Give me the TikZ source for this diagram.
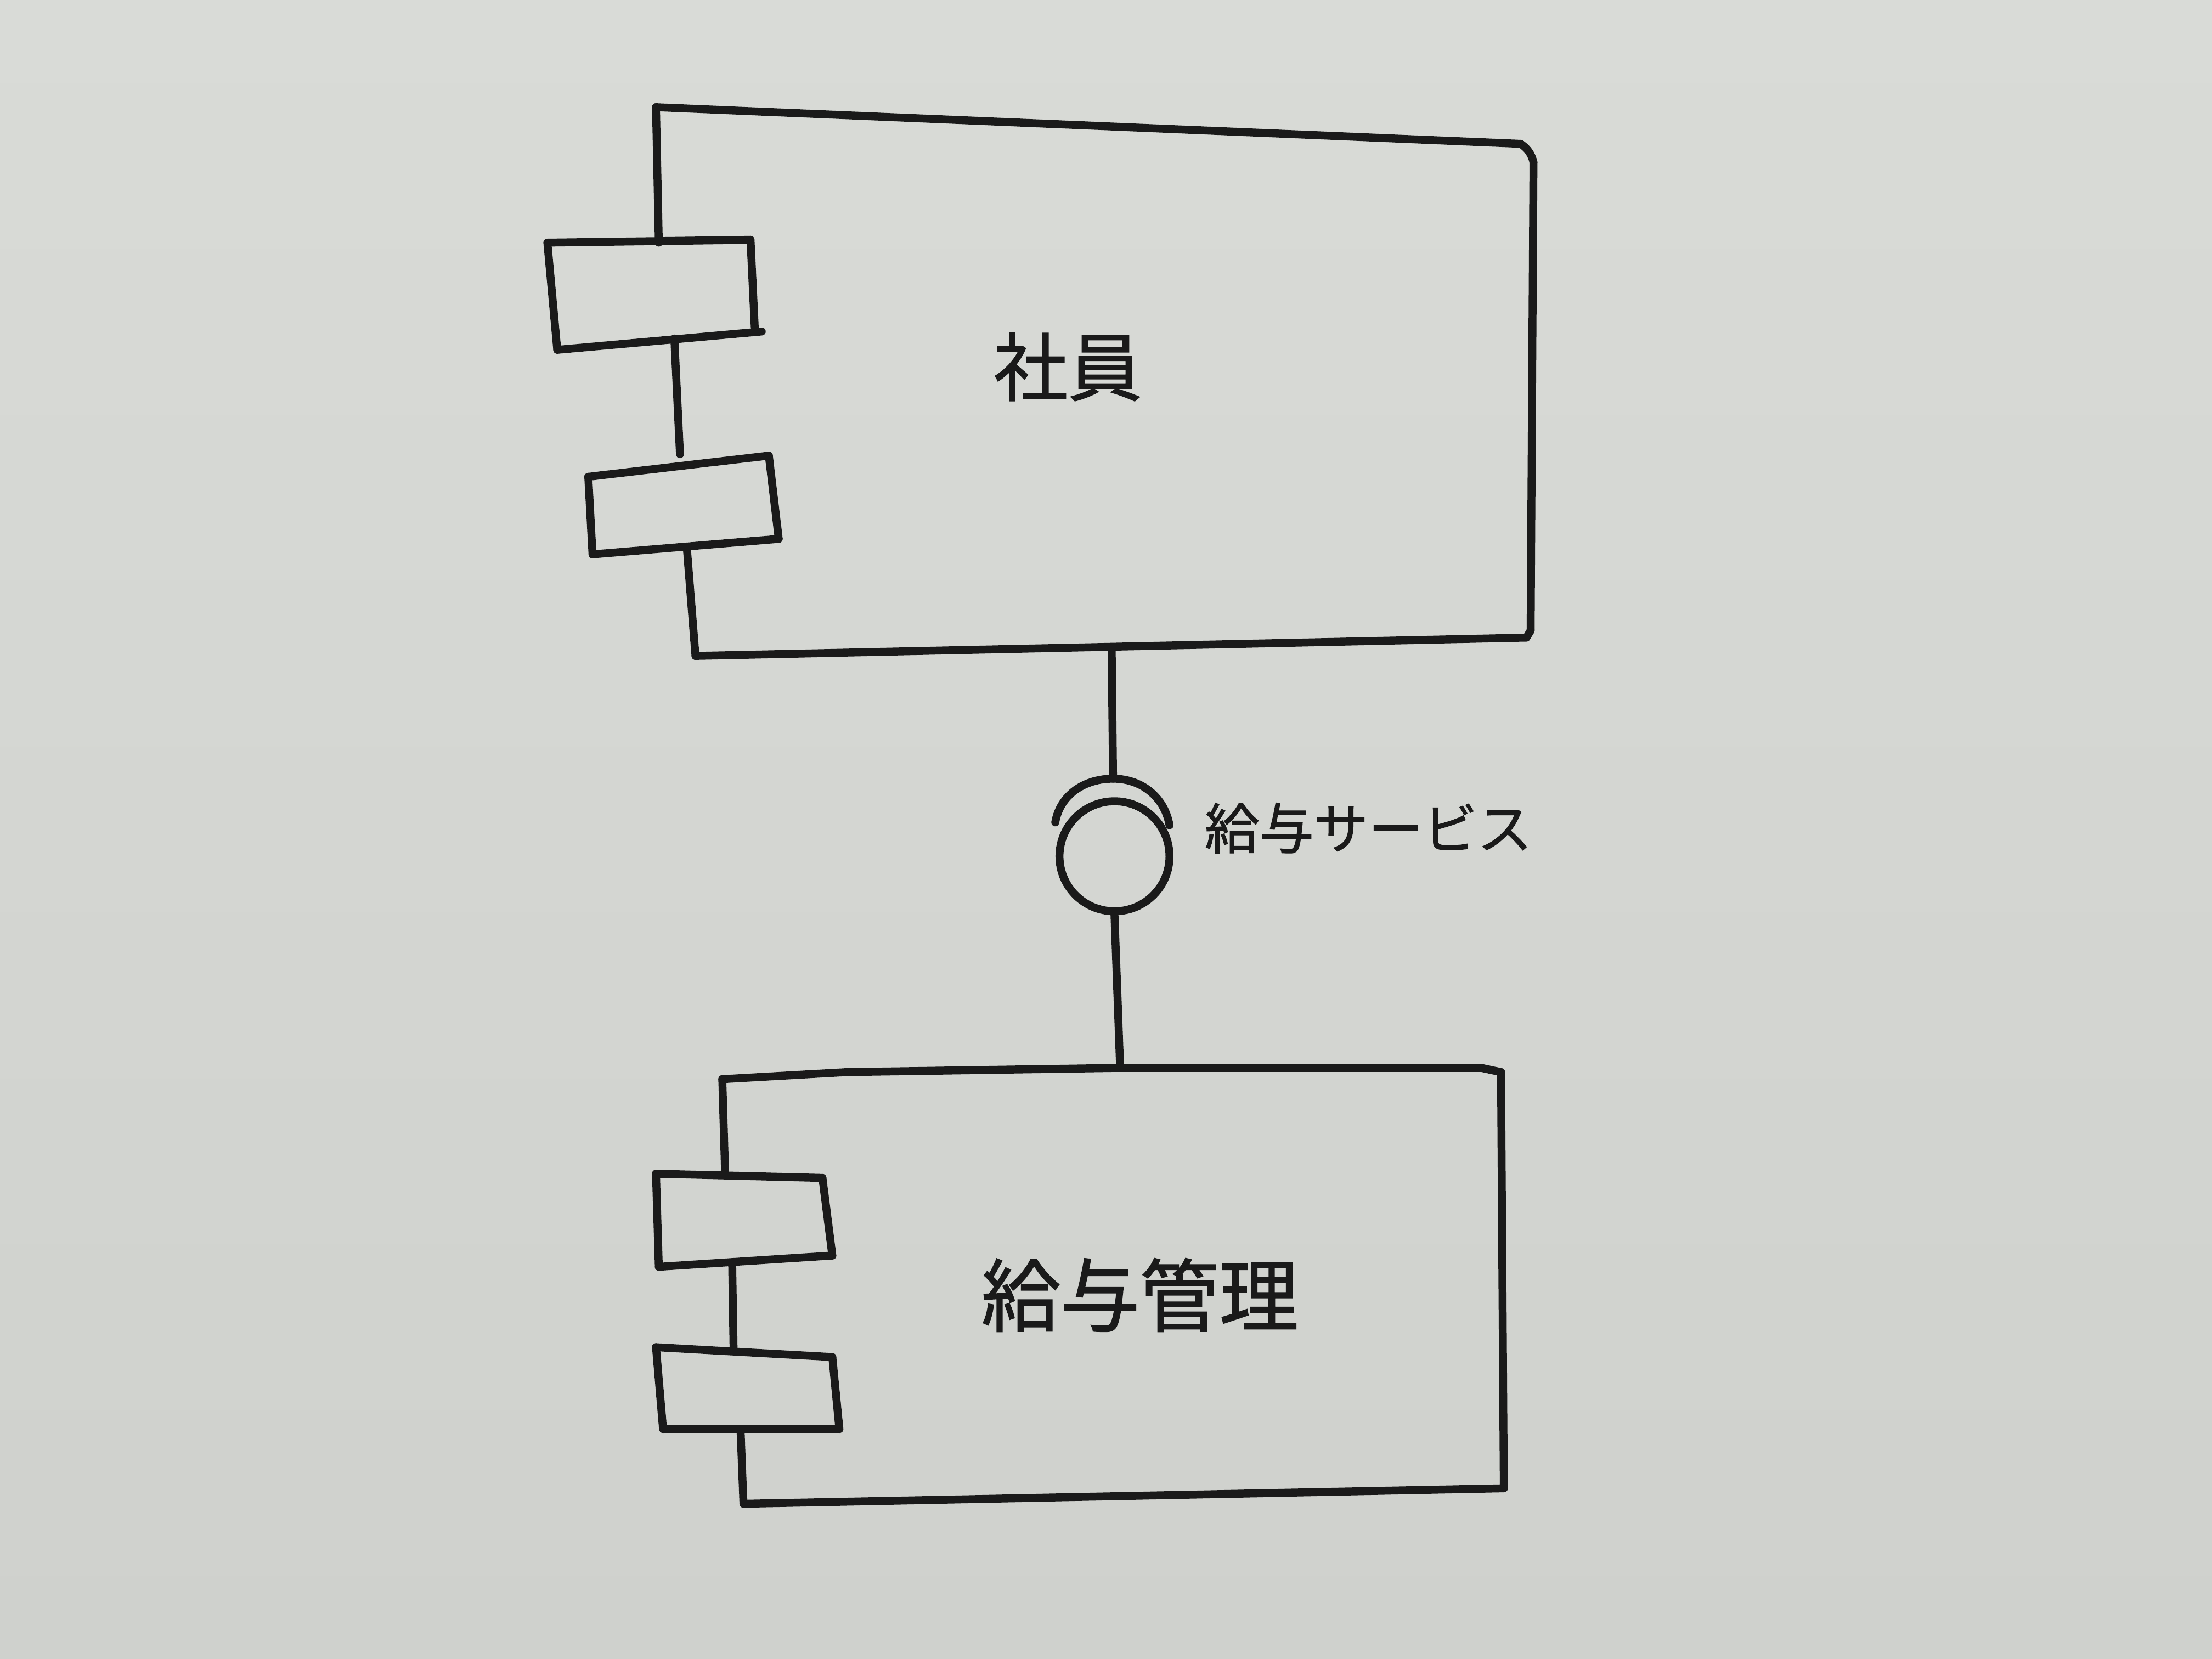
\documentclass[tikz,border=0pt]{standalone}
\usepackage{fontspec}
\newfontfamily\jpfont[FakeBold=1.2]{Noto Sans CJK JP}
\usepackage{tikz}
\usetikzlibrary{positioning}
\definecolor{board}{RGB}{207,209,205}
\definecolor{boardtop}{RGB}{217,219,215}
\definecolor{marker}{RGB}{26,26,26}
\tikzset{pen/.style = {draw=marker, line width=1.6pt, line cap=round, line join=round}}
\tikzset{label/.style = {text=marker, font=\jpfont}}

\begin{document}
\begin{tikzpicture}
		\shade [top color=boardtop, bottom color=board] (0,0) rectangle (15.68,11.76);
		\useasboundingbox (0,0) rectangle (15.68,11.76);
		% 社員
		\node (0) at (4.65, 11.00) {};
		\node (1) at (10.78, 10.74) {};
		\node (2) at (10.87, 10.61) {};
		\node (3) at (10.85, 7.29) {};
		\node (4) at (10.82, 7.24) {};
		\node (5) at (4.93, 7.11) {};
		\node (6) at (4.67, 10.04) {};
		\node (7) at (4.78, 9.36) {};
		\node (8) at (4.82, 8.54) {};
		\node (9) at (4.87, 7.86) {};
		\node (10) at (3.88, 10.04) {};
		\node (11) at (5.32, 10.06) {};
		\node (12) at (5.35, 9.44) {};
		\node (13) at (5.40, 9.41) {};
		\node (14) at (3.95, 9.28) {};
		\node (15) at (4.17, 8.38) {};
		\node (16) at (5.45, 8.53) {};
		\node (17) at (5.52, 7.94) {};
		\node (18) at (4.20, 7.83) {};
		\node (19) at (7.88, 7.17) {};
		\node[label, font=\jpfont\fontsize{15}{18}\selectfont] (employee) at (7.57, 9.16) {社員};
		\draw [pen] (0.center) to (1.center);
		\draw [pen] (1.center) to [bend left=20] (2.center);
		\draw [pen] (2.center) to (3.center);
		\draw [pen] (3.center) to (4.center);
		\draw [pen] (4.center) to (5.center);
		\draw [pen] (0.center) to (6.center);
		\draw [pen] (7.center) to (8.center);
		\draw [pen] (9.center) to (5.center);
		\draw [pen] (10.center) to (11.center);
		\draw [pen] (11.center) to (12.center);
		\draw [pen] (13.center) to (14.center);
		\draw [pen] (14.center) to (10.center);
		\draw [pen] (15.center) to (16.center);
		\draw [pen] (16.center) to (17.center);
		\draw [pen] (17.center) to (18.center);
		\draw [pen] (18.center) to (15.center);
		% 給与サービス
		\node (20) at (7.89, 6.24) {};
		\node (21) at (7.48, 5.93) {};
		\node (22) at (8.29, 5.91) {};
		\node [pen, circle, minimum size=0.78cm, inner sep=0pt] (ball) at (7.90, 5.69) {};
		\node[label, font=\jpfont\fontsize{11}{13}\selectfont] (service) at (9.70, 5.89) {給与サービス};
		\draw [pen] (19.center) to (20.center);
		\draw [pen] (21.center) to [out=80, in=180] (20.center) to [out=0, in=100] (22.center);
		% 給与管理
		\node (30) at (5.12, 4.11) {};
		\node (47) at (6.00, 4.16) {};
		\node (31) at (7.94, 4.19) {};
		\node (48) at (10.50, 4.19) {};
		\node (32) at (10.64, 4.16) {};
		\node (33) at (10.66, 1.21) {};
		\node (34) at (5.27, 1.10) {};
		\node (35) at (5.14, 3.44) {};
		\node (36) at (5.19, 2.81) {};
		\node (37) at (5.20, 2.19) {};
		\node (38) at (5.25, 1.61) {};
		\node (39) at (4.65, 3.44) {};
		\node (40) at (5.83, 3.41) {};
		\node (41) at (5.90, 2.86) {};
		\node (42) at (4.67, 2.78) {};
		\node (43) at (4.65, 2.21) {};
		\node (44) at (5.90, 2.14) {};
		\node (45) at (5.95, 1.63) {};
		\node (46) at (4.70, 1.63) {};
		\node[label, font=\jpfont\fontsize{16}{19}\selectfont] (payroll) at (8.08, 2.58) {給与管理};
		\draw [pen] (ball.south) to (31.center);
		\draw [pen] (30.center) to (47.center);
		\draw [pen] (47.center) to (31.center);
		\draw [pen] (31.center) to (48.center);
		\draw [pen] (48.center) to (32.center);
		\draw [pen] (32.center) to (33.center);
		\draw [pen] (33.center) to (34.center);
		\draw [pen] (30.center) to (35.center);
		\draw [pen] (36.center) to (37.center);
		\draw [pen] (38.center) to (34.center);
		\draw [pen] (39.center) to (40.center);
		\draw [pen] (40.center) to (41.center);
		\draw [pen] (41.center) to (42.center);
		\draw [pen] (42.center) to (39.center);
		\draw [pen] (43.center) to (44.center);
		\draw [pen] (44.center) to (45.center);
		\draw [pen] (45.center) to (46.center);
		\draw [pen] (46.center) to (43.center);
	\end{tikzpicture}
\end{document}
